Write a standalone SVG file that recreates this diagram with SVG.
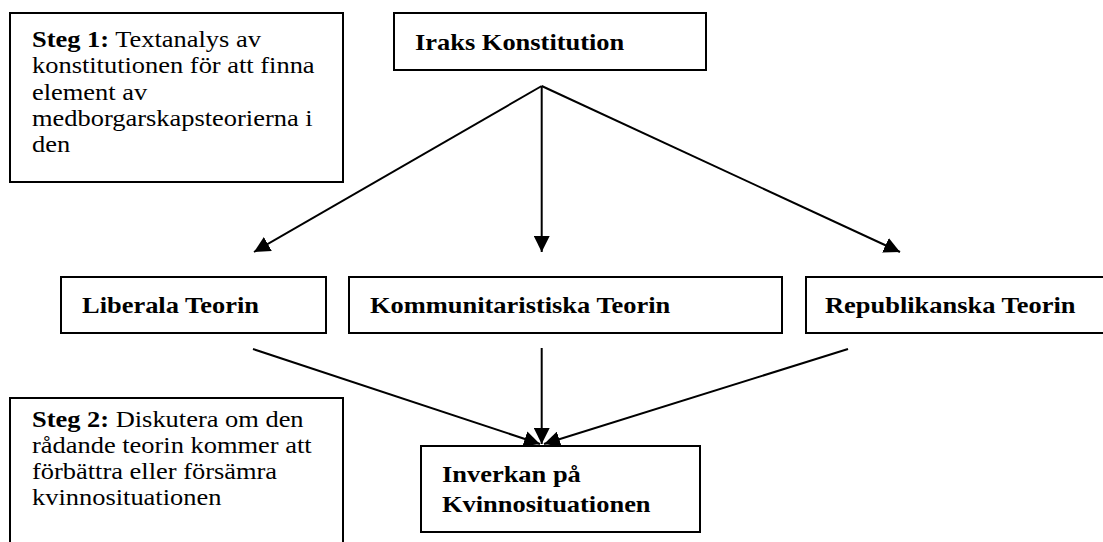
<svg xmlns="http://www.w3.org/2000/svg" width="1103" height="542" viewBox="0 0 1103 542">
<style>
.box{fill:#fff;stroke:#000;stroke-width:2}
.t{font-family:"Liberation Serif","Times New Roman",serif;font-size:23px;fill:#000}
.b{font-weight:bold}
.ln{stroke:#000;stroke-width:2;fill:none;marker-end:url(#ah)}
</style>
<defs>
<marker id="ah" markerUnits="userSpaceOnUse" markerWidth="16" markerHeight="16" viewBox="0 0 16 16" refX="16" refY="8" orient="auto">
<path d="M0,0 L16,8 L0,16 z" fill="#000"/>
</marker>
</defs>
<g id="connectors">
<line class="ln" x1="541.7" y1="86" x2="254" y2="252"/>
<line class="ln" x1="541.7" y1="86" x2="541.7" y2="252"/>
<line class="ln" x1="541.7" y1="86" x2="900" y2="252"/>
<line class="ln" x1="253" y1="349" x2="540" y2="444"/>
<line class="ln" x1="541.7" y1="348" x2="541.7" y2="444"/>
<line class="ln" x1="848" y1="349" x2="544" y2="444"/>
</g>
<g id="steg1">
<rect class="box" x="10" y="13" width="333" height="169"/>
<text class="t" transform="translate(32,47) scale(1.15,1)"><tspan class="b">Steg 1:</tspan> Textanalys av<tspan x="0" y="26.3">konstitutionen för att finna</tspan><tspan x="0" y="52.6">element av</tspan><tspan x="0" y="78.9">medborgarskapsteorierna i</tspan><tspan x="0" y="105.2">den</tspan></text>
</g>
<g id="iraks">
<rect class="box" x="394" y="13" width="312" height="57"/>
<text class="t b" transform="translate(415,50) scale(1.15,1)">Iraks Konstitution</text>
</g>
<g id="liberala">
<rect class="box" x="61" y="277" width="265" height="56"/>
<text class="t b" transform="translate(82,313) scale(1.15,1)">Liberala Teorin</text>
</g>
<g id="kommunitaristiska">
<rect class="box" x="349" y="277" width="433" height="56"/>
<text class="t b" transform="translate(370,313) scale(1.15,1)">Kommunitaristiska Teorin</text>
</g>
<g id="republikanska">
<rect class="box" x="806" y="277" width="300" height="56"/>
<text class="t b" transform="translate(825,313) scale(1.15,1)">Republikanska Teorin</text>
</g>
<g id="steg2">
<rect class="box" x="10" y="398" width="333" height="145"/>
<text class="t" transform="translate(32,427) scale(1.15,1)"><tspan class="b">Steg 2:</tspan> Diskutera om den<tspan x="0" y="26">rådande teorin kommer att</tspan><tspan x="0" y="52">förbättra eller försämra</tspan><tspan x="0" y="78">kvinnosituationen</tspan></text>
</g>
<g id="inverkan">
<rect class="box" x="421" y="446" width="279" height="86"/>
<text class="t b" transform="translate(442,482) scale(1.15,1)">Inverkan på<tspan x="0" y="30">Kvinnosituationen</tspan></text>
</g>
</svg>
